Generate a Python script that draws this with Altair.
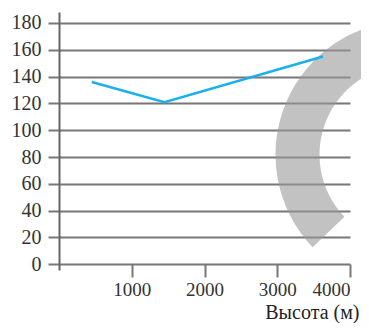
import altair as alt
import pandas as pd

# data
heights = [450, 1450, 3630]
values = [136, 121, 155]
y_ticks = [0, 20, 40, 60, 80, 100, 120, 140, 160, 180]
x_ticks = [1000, 2000, 3000, 4000]

# grey ring overlay (centre in data units, angles in radians)
ring_x = [4818]
ring_y = [81.8]
ring_theta = [3.95]
ring_theta2 = [6.2832]

W, H = 291, 258
FONT = "Liberation Serif"

line_df = pd.DataFrame({"h": heights, "v": values})
ring_df = pd.DataFrame({"x": ring_x, "y": ring_y, "t": ring_theta, "t2": ring_theta2})

xscale = alt.Scale(domain=[0, 4000], nice=False, zero=False)
yscale = alt.Scale(domain=[-4.25, 188.2], nice=False, zero=False)

xaxis = alt.Axis(
    values=x_ticks, format="d", grid=False, domain=False, offset=-6,
    tickSize=13, tickWidth=2, tickColor="#777",
    labelFont=FONT, labelFontSize=19, labelColor="#333", labelPadding=3,
    labelOverlap=False,
    title="Высота (м)", titleFont=FONT, titleFontSize=20, titleFontWeight="normal",
    titleColor="#222", titleAnchor="end", titleAlign="right", titleBaseline="alphabetic",
    titleX=W + 9, titleY=54,
)
yaxis = alt.Axis(
    values=y_ticks, grid=True, gridColor="#777", gridWidth=2,
    tickSize=11, tickWidth=2, tickColor="#777",
    domainColor="#666", domainWidth=2,
    labelFont=FONT, labelFontSize=20, labelColor="#333", labelPadding=7,
    labelOverlap=False,
    title=None,
)

ring = alt.Chart(ring_df).mark_arc(
    radius=134, radius2=90, color="#999", opacity=0.6, clip=False
).encode(
    x=alt.X("x:Q", scale=xscale, axis=xaxis),
    y=alt.Y("y:Q", scale=yscale, axis=yaxis),
    theta=alt.Theta("t:Q", scale=None),
    theta2="t2:Q",
)

line = alt.Chart(line_df).mark_line(color="#1ab0ee", strokeWidth=2.5).encode(
    x=alt.X("h:Q", scale=xscale, axis=xaxis),
    y=alt.Y("v:Q", scale=yscale, axis=yaxis),
)

chart = alt.layer(ring, line).properties(
    width=W, height=H,
    autosize=alt.AutoSizeParams(type="none"),
    padding={"left": 51, "top": 4, "right": 11, "bottom": 53},
).configure_view(stroke=None)

chart.save("out.html", embed_options={"renderer": "svg", "actions": False})
